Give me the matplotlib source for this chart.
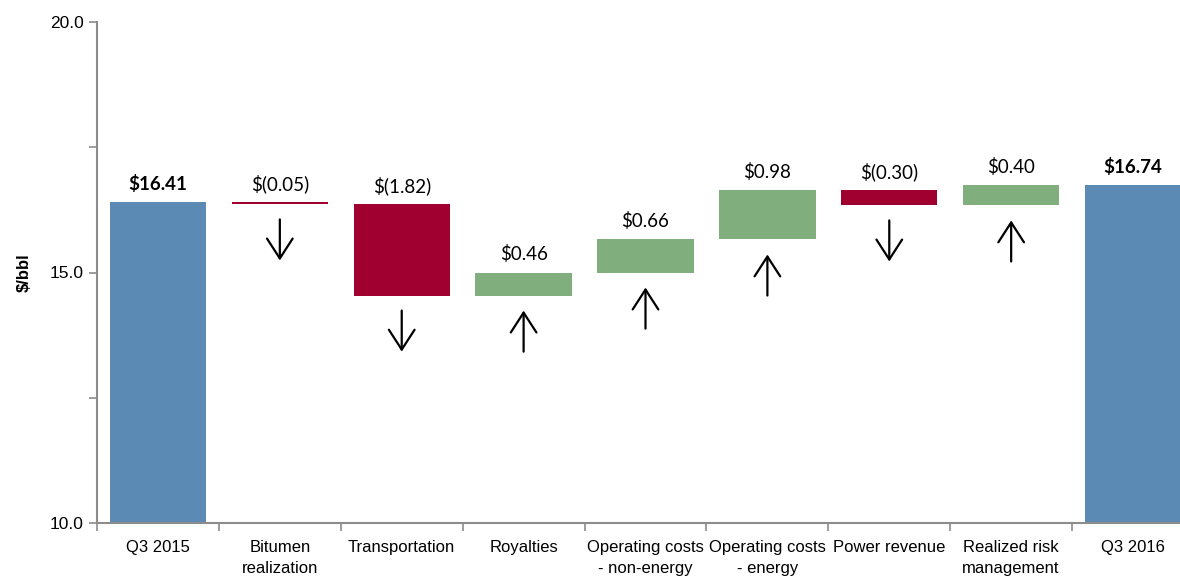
import matplotlib
matplotlib.use('Agg')
import matplotlib.pyplot as plt
import numpy as np

# chart data
categories = ['Q3 2015', 'Bitumen\nrealization', 'Transportation', 'Royalties',
              'Operating costs\n- non-energy', 'Operating costs\n- energy',
              'Power revenue', 'Realized risk\nmanagement', 'Q3 2016']
start_value = 16.41
changes = [-0.05, -1.82, 0.46, 0.66, 0.98, -0.30, 0.40]
end_value = 16.74
change_labels = ['$(0.05)', '$(1.82)', '$0.46', '$0.66', '$0.98', '$(0.30)', '$0.40']
total_labels = ['$16.41', '$16.74']

BLUE = '#5B8BB4'
RED = '#9F0030'
GREEN = '#80AF7D'
AXIS_GREY = '#8C8C8C'

narrow = ['Liberation Sans Narrow', 'Liberation Sans', 'DejaVu Sans']
value_font = ['Lato', 'DejaVu Sans']

fig = plt.figure(figsize=(11.8, 5.8), dpi=100)
ax = fig.add_axes([97 / 1180, 57 / 580, 1097 / 1180, 501 / 580])

x = np.arange(len(categories))
width = 0.79
arrow_style = '->,head_length=0.65,head_width=0.42'

# totals
ax.bar(x[0], start_value - 10, bottom=10, width=width, color=BLUE)
ax.bar(x[-1], end_value - 10, bottom=10, width=width, color=BLUE)
ax.text(x[0], start_value + 0.18, total_labels[0], ha='center', va='bottom',
        fontsize=13.5, fontweight='bold', family=value_font)
ax.text(x[-1], end_value + 0.18, total_labels[1], ha='center', va='bottom',
        fontsize=13.5, fontweight='bold', family=value_font)

# floating change bars with arrows underneath
level = start_value
for i, (chg, lab) in enumerate(zip(changes, change_labels), start=1):
    lo, hi = min(level, level + chg), max(level, level + chg)
    color = GREEN if chg > 0 else RED
    ax.bar(x[i], hi - lo, bottom=lo, width=width, color=color)
    ax.text(x[i], hi + 0.18, lab, ha='center', va='bottom', fontsize=13.5,
            family=value_font)
    a_top = lo - 0.3
    a_bot = a_top - 0.82
    if chg > 0:
        ax.annotate('', xy=(x[i], a_top), xytext=(x[i], a_bot),
                    arrowprops=dict(arrowstyle=arrow_style, lw=1.6, color='black',
                                    mutation_scale=22, shrinkA=0, shrinkB=0))
    else:
        ax.annotate('', xy=(x[i], a_bot), xytext=(x[i], a_top),
                    arrowprops=dict(arrowstyle=arrow_style, lw=1.6, color='black',
                                    mutation_scale=22, shrinkA=0, shrinkB=0))
    level += chg

ax.set_xlim(-0.5, len(categories) - 0.5)
ax.set_ylim(10, 20)

ax.set_yticks([10, 15, 20])
ax.set_yticklabels(['10.0', '15.0', '20.0'], family=narrow, fontsize=12.5)
ax.set_yticks([12.5, 17.5], minor=True)
ax.tick_params(axis='y', which='both', direction='out', length=6, color=AXIS_GREY, width=1.2)

ax.set_xticks(x)
ax.set_xticklabels(categories, family=narrow, fontsize=12, linespacing=1.5)
ax.set_xticks(np.arange(len(categories)) - 0.5, minor=True)
ax.tick_params(axis='x', which='major', length=0, pad=12)
ax.tick_params(axis='x', which='minor', direction='out', length=6, color=AXIS_GREY, width=1.2)

ax.set_ylabel('$/bbl', family=narrow, fontsize=12, fontweight='bold', labelpad=13)

for side in ['top', 'right']:
    ax.spines[side].set_visible(False)
for side in ['left', 'bottom']:
    ax.spines[side].set_color(AXIS_GREY)
    ax.spines[side].set_linewidth(1.5)

fig.savefig('out.png', dpi=100)
